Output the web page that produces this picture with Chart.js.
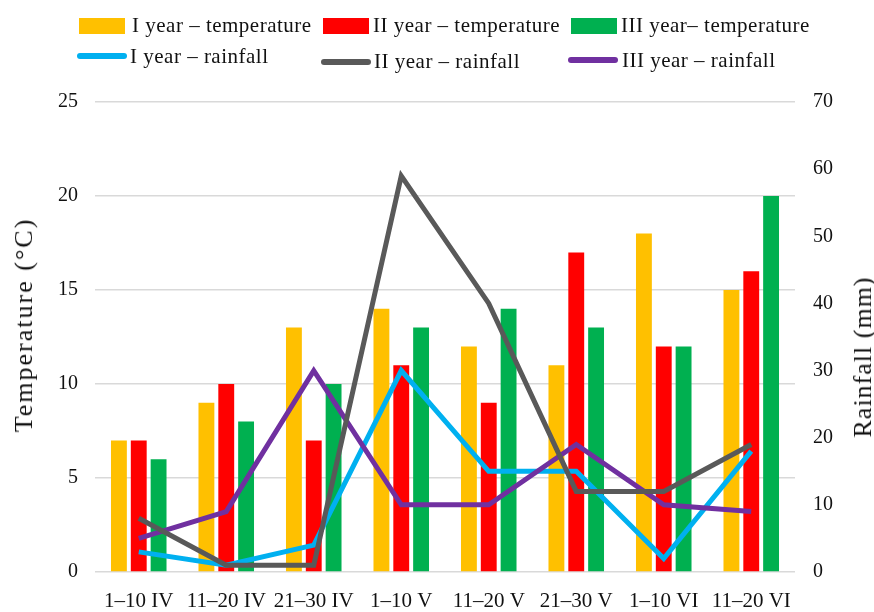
<!DOCTYPE html>
<html>
<head>
    <title>Temperature and Rainfall</title>
    <script src='https://cdn.jsdelivr.net/npm/chart.js'></script>
    <style>
        body { margin: 0; background: #fff; font-family: 'Liberation Serif', serif; }
        #wrap { position: relative; width: 874px; height: 612px; }
        canvas { position: absolute; left: 0; top: 0; }
        .leg { position: absolute; font-size: 21px; line-height: 21px; letter-spacing: 0.5px; color: #111; white-space: nowrap; }
        .box { position: absolute; width: 46px; height: 16px; }
        .ln { position: absolute; width: 50px; height: 6px; border-radius: 3px; }
        .ytitle { position: absolute; font-size: 26px; color: #111; white-space: nowrap; transform: translate(-50%, -50%) rotate(-90deg); }
    </style>
</head>
<body>
    <div id="wrap">
        <canvas id="chart" width="874" height="612"></canvas>
        <div id="legend"></div>
        <div class="ytitle" style="left:24px; top:325px; letter-spacing:2px;">Temperature (°C)</div>
        <div class="ytitle" style="left:863px; top:357px; letter-spacing:1px;">Rainfall (mm)</div>
    </div>
    <script>
        const periods = ['1–10 IV', '11–20 IV', '21–30 IV', '1–10 V', '11–20 V', '21–30 V', '1–10 VI', '11–20 VI'];

        // temperature (°C), left axis
        const tempYear1 = [7, 9, 13, 14, 12, 11, 18, 15];
        const tempYear2 = [7, 10, 7, 11, 9, 17, 12, 16];
        const tempYear3 = [6, 8, 10, 13, 14, 13, 12, 20];

        // rainfall (mm), right axis
        const rainYear1 = [3, 1, 4, 30, 15, 15, 2, 18];
        const rainYear2 = [8, 1, 1, 59, 40, 12, 12, 19];
        const rainYear3 = [5, 9, 30, 10, 10, 19, 10, 9];

        const tempTicks = [0, 5, 10, 15, 20, 25];
        const rainTicks = [0, 10, 20, 30, 40, 50, 60, 70];

        // legend entries: mark position and text baseline
        const legendItems = [
            { text: 'I year – temperature', color: '#ffc000', kind: 'box', x: 79, y: 18, tx: 132, base: 33 },
            { text: 'II year – temperature', color: '#ff0000', kind: 'box', x: 323, y: 18, tx: 373, base: 33 },
            { text: 'III year– temperature', color: '#00b050', kind: 'box', x: 571, y: 18, tx: 621, base: 33 },
            { text: 'I year – rainfall', color: '#00b0f0', kind: 'line', x: 77, y: 53, tx: 130, base: 64 },
            { text: 'II year – rainfall', color: '#595959', kind: 'line', x: 321, y: 59, tx: 374, base: 69 },
            { text: 'III year – rainfall', color: '#7030a0', kind: 'line', x: 568, y: 57, tx: 622, base: 67.5 }
        ];

        const legend = document.getElementById('legend');
        legendItems.forEach(item => {
            const mark = document.createElement('div');
            mark.className = item.kind === 'box' ? 'box' : 'ln';
            mark.style.background = item.color;
            mark.style.left = item.x + 'px';
            mark.style.top = item.y + 'px';
            legend.appendChild(mark);
            const label = document.createElement('div');
            label.className = 'leg';
            label.textContent = item.text;
            label.style.left = item.tx + 'px';
            label.style.top = (item.base - 17.6) + 'px';
            legend.appendChild(label);
        });

        const lineDs = (label, data, color) => ({
            type: 'line',
            label: label,
            data: data,
            yAxisID: 'yRain',
            borderColor: color,
            backgroundColor: color,
            borderWidth: 5,
            pointRadius: 0,
            tension: 0,
            fill: false,
            order: 0
        });

        const barDs = (label, data, color) => ({
            type: 'bar',
            label: label,
            data: data,
            yAxisID: 'yTemp',
            backgroundColor: color,
            categoryPercentage: 0.68,
            barPercentage: 0.8,
            order: 1
        });

        new Chart(document.getElementById('chart').getContext('2d'), {
            data: {
                labels: periods,
                datasets: [
                    lineDs('II year – rainfall', rainYear2, '#595959'),
                    lineDs('III year – rainfall', rainYear3, '#7030a0'),
                    lineDs('I year – rainfall', rainYear1, '#00b0f0'),
                    barDs('I year – temperature', tempYear1, '#ffc000'),
                    barDs('II year – temperature', tempYear2, '#ff0000'),
                    barDs('III year– temperature', tempYear3, '#00b050')
                ]
            },
            options: {
                responsive: false,
                animation: false,
                layout: { padding: { top: 102, left: 0, right: 0, bottom: 0 } },
                plugins: {
                    legend: { display: false },
                    tooltip: { enabled: false }
                },
                scales: {
                    x: {
                        grid: { display: false },
                        border: { display: false },
                        ticks: { font: { family: 'Liberation Serif', size: 21 }, color: '#111', maxRotation: 0, padding: 9 },
                        afterFit: (scale) => { scale.height = 40; }
                    },
                    yTemp: {
                        position: 'left',
                        min: 0,
                        max: 25,
                        afterBuildTicks: (scale) => { scale.ticks = tempTicks.map(v => ({ value: v })); },
                        grid: { color: '#d9d9d9', lineWidth: 1.5, drawTicks: false },
                        border: { display: false },
                        ticks: { font: { family: 'Liberation Serif', size: 20 }, color: '#111', padding: 17 },
                        afterFit: (scale) => { scale.width = 95; }
                    },
                    yRain: {
                        position: 'right',
                        min: 0,
                        max: 70,
                        afterBuildTicks: (scale) => { scale.ticks = rainTicks.map(v => ({ value: v })); },
                        grid: { display: false },
                        border: { display: false },
                        ticks: { font: { family: 'Liberation Serif', size: 20 }, color: '#111', padding: 10 },
                        afterFit: (scale) => { scale.width = 79; }
                    }
                }
            }
        });
    </script>
</body>
</html>
